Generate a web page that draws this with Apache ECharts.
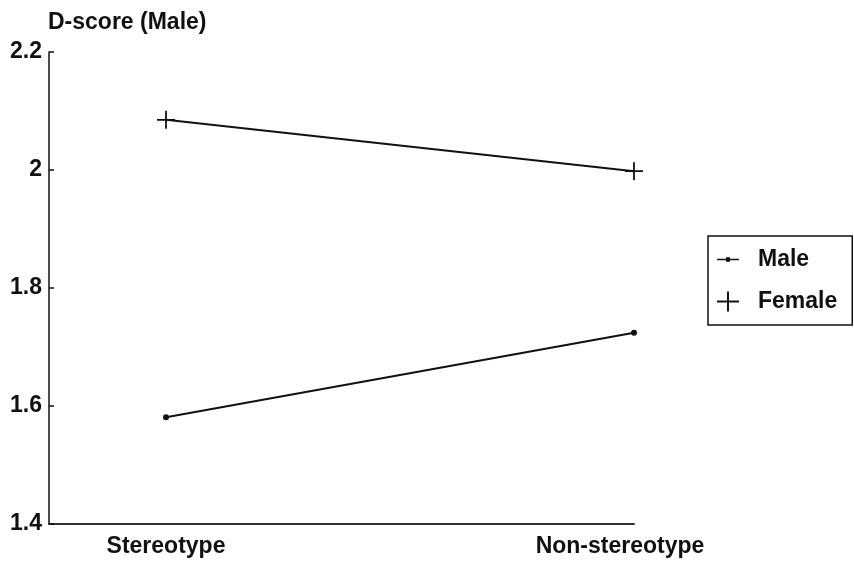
<!DOCTYPE html>
<html>
<head>
<meta charset="utf-8">
<script src="https://cdn.jsdelivr.net/npm/echarts@6/dist/echarts.min.js"></script>
<style>html,body{margin:0;padding:0;background:#fff}#c{width:854px;height:564px}</style>
</head>
<body>
<div id="c"></div>
<script>
const categories = ['Stereotype', 'Non-stereotype'];
const categoryPos = [0, 1];
const maleValues = [1.581, 1.724];
const femaleValues = [2.085, 1.998];
const yTicks = [1.4, 1.6, 1.8, 2, 2.2];
const seriesNames = ['Male', 'Female'];
const yAxisTitle = 'D-score (Male)';

const plusPath = 'path://M0,9H20V11H0Z M9,0H11V20H9Z';
const maleLegendIcon = 'path://M0,9.2H22V10.8H0Z M9,7.8H13V12.2H9Z';
const femaleLegendIcon = 'path://M1,9.1H21V10.9H1Z M10.1,1H11.9V19H10.1Z';

const font = 'Liberation Sans, Arial, sans-serif';
const txt = {fontSize: 23, fontWeight: 'bold', color: '#111', fontFamily: font};
const chart = echarts.init(document.getElementById('c'), null, {renderer: 'canvas'});
chart.setOption({
  animation: false,
  backgroundColor: '#fff',
  grid: {left: 49, right: 220, top: 52, bottom: 40, containLabel: false},
  xAxis: {
    type: 'value', min: -0.25, max: 1, interval: 0.25,
    axisLine: {show: true, lineStyle: {color: '#333', width: 2}},
    axisTick: {show: false},
    splitLine: {show: false},
    axisLabel: Object.assign({}, txt, {
      margin: 11,
      formatter: v => {
        const i = categoryPos.indexOf(Math.round(v*100)/100);
        if (i < 0) return '';
        return i === categoryPos.length - 1 ? '{s|' + categories[i] + '}' : categories[i];
      },
      rich: {s: Object.assign({}, txt, {padding: [0, 28, 0, 0]})}
    })
  },
  yAxis: {
    type: 'value', min: 1.4, max: 2.2, interval: 0.2,
    name: yAxisTitle, nameLocation: 'end', nameGap: 18,
    nameTextStyle: Object.assign({}, txt, {align: 'left', padding: [0,0,0,-1]}),
    axisLine: {show: true, onZero: false, lineStyle: {color: '#111', width: 1.5}},
    axisTick: {show: true, inside: true, length: 5, lineStyle: {color: '#111', width: 1.5}},
    splitLine: {show: false},
    axisLabel: Object.assign({}, txt, {margin: 7,
      formatter: v => { const t = yTicks.find(x => Math.abs(x - v) < 1e-6); return t === undefined ? '' : String(t); }})
  },
  legend: {
    orient: 'vertical', left: 708, top: 236,
    borderColor: '#111', borderWidth: 1.5, borderRadius: 0,
    padding: [12, 15, 12, 9], itemGap: 19,
    itemWidth: 22, itemHeight: 20,
    textStyle: Object.assign({}, txt, {padding: [0,0,0,14]}),
    data: [
      {name: seriesNames[0], icon: maleLegendIcon, itemStyle: {color: '#111'}},
      {name: seriesNames[1], icon: femaleLegendIcon, itemStyle: {color: '#111'}}
    ]
  },
  series: [
    {
      name: seriesNames[0], type: 'line',
      data: categoryPos.map((x, i) => [x, maleValues[i]]),
      symbol: 'circle', symbolSize: 6,
      lineStyle: {color: '#111', width: 2},
      itemStyle: {color: '#111'}
    },
    {
      name: seriesNames[1], type: 'line',
      data: categoryPos.map((x, i) => [x, femaleValues[i]]),
      symbol: plusPath, symbolSize: 18,
      lineStyle: {color: '#111', width: 2},
      itemStyle: {color: '#111'}
    }
  ]
});
</script>
</body>
</html>
